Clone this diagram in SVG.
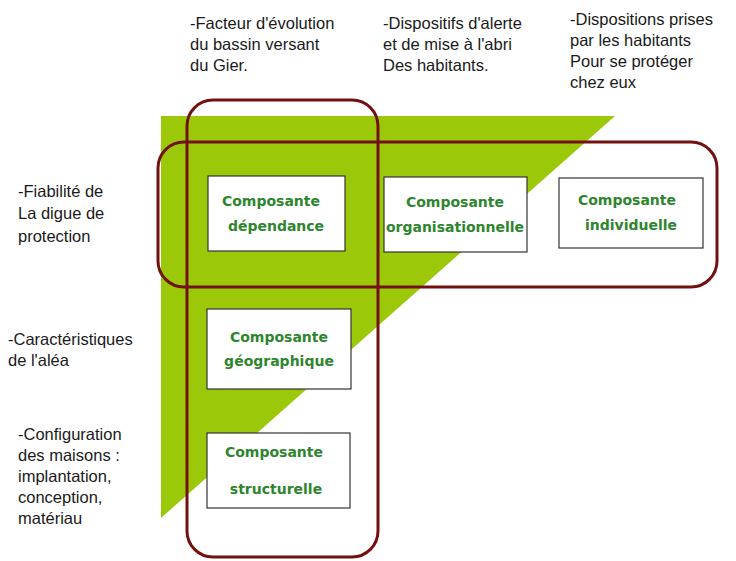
<svg xmlns="http://www.w3.org/2000/svg" width="736" height="561" viewBox="0 0 736 561">
  <style>
    .lbl { font-family: "Liberation Sans", Arial, sans-serif; font-size: 16.5px; fill: #1a1a1a; }
    .box rect { fill: #ffffff; stroke: #333333; stroke-width: 1.2; }
    .box text { font-family: "DejaVu Sans", "Liberation Sans", sans-serif; font-weight: bold; font-size: 14px; fill: #2e852e; text-anchor: middle; }
    .ring { fill: none; stroke: #731010; stroke-width: 3; }
  </style>
  <rect width="736" height="561" fill="#ffffff"/>

  <!-- green wedge -->
  <polygon points="161,116 615,116 161,518" fill="#9bc90a"/>

  <!-- column headings -->
  <g class="lbl">
    <text x="190" y="29">-Facteur d'évolution</text>
    <text x="190" y="50">du bassin versant</text>
    <text x="190" y="71">du Gier.</text>
    <text x="383" y="29">-Dispositifs d'alerte</text>
    <text x="383" y="50">et de mise à l'abri</text>
    <text x="383" y="71">Des habitants.</text>
    <text x="570" y="25">-Dispositions prises</text>
    <text x="570" y="46">par les habitants</text>
    <text x="570" y="67">Pour se protéger</text>
    <text x="570" y="88">chez eux</text>
  </g>

  <!-- row headings -->
  <g class="lbl">
    <text x="18" y="197">-Fiabilité de</text>
    <text x="18" y="219">La digue de</text>
    <text x="18" y="242">protection</text>
    <text x="8" y="345">-Caractéristiques</text>
    <text x="8" y="366">de l'aléa</text>
    <text x="18" y="440">-Configuration</text>
    <text x="18" y="461">des maisons :</text>
    <text x="18" y="482">implantation,</text>
    <text x="18" y="503">conception,</text>
    <text x="18" y="524">matériau</text>
  </g>

  <!-- component boxes -->
  <g id="dependance" class="box">
    <rect x="208" y="176" width="137" height="75"/>
    <text x="271" y="206">Composante</text>
    <text x="276" y="231">dépendance</text>
  </g>
  <g id="organisationnelle" class="box">
    <rect x="384" y="177" width="143" height="75"/>
    <text x="455" y="207">Composante</text>
    <text x="455" y="232">organisationnelle</text>
  </g>
  <g id="individuelle" class="box">
    <rect x="559" y="178" width="144" height="70"/>
    <text x="627" y="205">Composante</text>
    <text x="631" y="230">individuelle</text>
  </g>
  <g id="geographique" class="box">
    <rect x="207" y="309" width="144" height="80"/>
    <text x="279" y="342">Composante</text>
    <text x="279" y="366">géographique</text>
  </g>
  <g id="structurelle" class="box">
    <rect x="207" y="433" width="143" height="75"/>
    <text x="274" y="457">Composante</text>
    <text x="276" y="494">structurelle</text>
  </g>

  <!-- grouping outlines -->
  <g id="groupings">
    <rect class="ring" x="187" y="100" width="191" height="457" rx="26"/>
    <rect class="ring" x="158" y="142" width="559" height="145" rx="26"/>
  </g>
</svg>
